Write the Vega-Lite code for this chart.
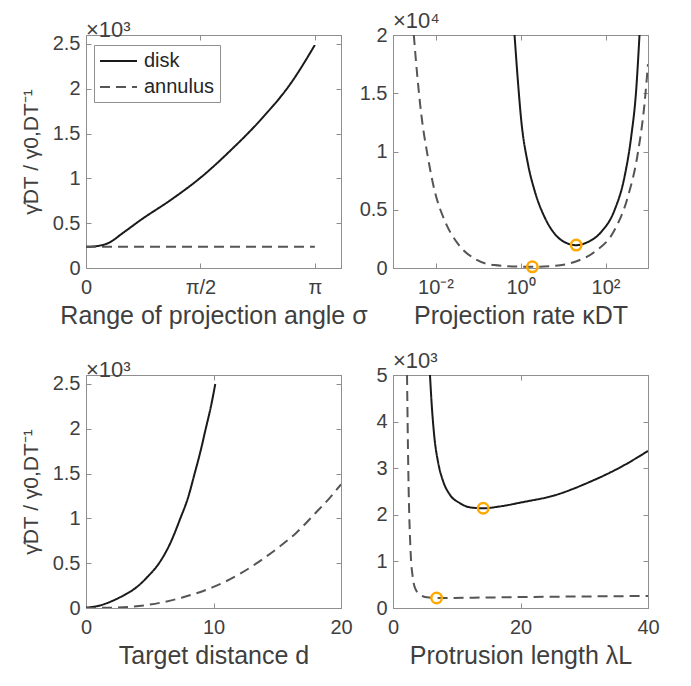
{
  "$schema": "https://vega.github.io/schema/vega-lite/v6.json",
  "background": "white",
  "padding": {"left": 19, "top": 9, "right": 5, "bottom": 5},
  "config": {
    "font": "Liberation Sans",
    "view": {"stroke": "#8f8f8f", "strokeWidth": 1},
    "axis": {"grid": false, "domainColor": "#8f8f8f", "tickColor": "#8f8f8f", "tickSize": -5, "labelFontSize": 20, "labelColor": "#3f3f3f", "titleFontSize": 25, "titleFontWeight": "normal", "titleColor": "#3f3f3f", "labelFont": "Liberation Sans", "titleFont": "Liberation Sans", "labelOverlap": false, "labelFlush": false, "labelBound": false},
    "axisX": {"labelPadding": 14, "titlePadding": 6},
    "axisY": {"labelPadding": 11, "titlePadding": 11, "titleFontSize": 21},
    "title": {"anchor": "start", "frame": "group", "fontSize": 22, "fontWeight": "normal", "color": "#3f3f3f", "font": "Liberation Sans", "offset": -8, "baseline": "alphabetic"},
    "legend": {"labelFontSize": 20, "labelColor": "#262626", "labelFont": "Liberation Sans"}
  },
  "datasets": {
    "p1": [
      {"x": 0, "y": 236, "s": "disk"}, {"x": 0.144, "y": 244, "s": "disk"}, {"x": 0.308, "y": 279, "s": "disk"}, {"x": 0.513, "y": 395, "s": "disk"}, {"x": 0.76, "y": 541, "s": "disk"}, {"x": 1.17, "y": 763, "s": "disk"}, {"x": 1.581, "y": 1014, "s": "disk"}, {"x": 1.992, "y": 1318, "s": "disk"}, {"x": 2.402, "y": 1658, "s": "disk"}, {"x": 2.813, "y": 2063, "s": "disk"}, {"x": 3.1416, "y": 2489, "s": "disk"},
      {"x": 0, "y": 236, "s": "annulus"}, {"x": 1.5, "y": 236, "s": "annulus"}, {"x": 3.1416, "y": 236, "s": "annulus"}
    ],
    "p2": [
      {"x": 0.724, "y": 20000, "s": "disk"}, {"x": 0.865, "y": 16130, "s": "disk"}, {"x": 1.04, "y": 12690, "s": "disk"}, {"x": 1.49, "y": 8970, "s": "disk"}, {"x": 2.13, "y": 6680, "s": "disk"}, {"x": 3.67, "y": 4380, "s": "disk"}, {"x": 6.31, "y": 2950, "s": "disk"}, {"x": 10.8, "y": 2230, "s": "disk"}, {"x": 20.4, "y": 1960, "s": "disk"}, {"x": 38.4, "y": 2230, "s": "disk"}, {"x": 79.1, "y": 3090, "s": "disk"}, {"x": 163, "y": 4960, "s": "disk"}, {"x": 280, "y": 7820, "s": "disk"}, {"x": 402, "y": 11260, "s": "disk"}, {"x": 527, "y": 15270, "s": "disk"}, {"x": 631, "y": 20000, "s": "disk"},
      {"x": 0.00309, "y": 20000, "s": "annulus"}, {"x": 0.00351, "y": 17560, "s": "annulus"}, {"x": 0.0046, "y": 13270, "s": "annulus"}, {"x": 0.0066, "y": 9540, "s": "annulus"}, {"x": 0.00946, "y": 6680, "s": "annulus"}, {"x": 0.0163, "y": 4100, "s": "annulus"}, {"x": 0.0335, "y": 2090, "s": "annulus"}, {"x": 0.0828, "y": 800, "s": "annulus"}, {"x": 0.244, "y": 250, "s": "annulus"}, {"x": 1.04, "y": 110, "s": "annulus"}, {"x": 1.9, "y": 100, "s": "annulus"}, {"x": 6.31, "y": 180, "s": "annulus"}, {"x": 18.6, "y": 520, "s": "annulus"}, {"x": 55, "y": 1380, "s": "annulus"}, {"x": 162, "y": 3240, "s": "annulus"}, {"x": 335, "y": 6100, "s": "annulus"}, {"x": 575, "y": 9830, "s": "annulus"}, {"x": 828, "y": 14100, "s": "annulus"}, {"x": 1000, "y": 17500, "s": "annulus"}
    ],
    "c2": [{"x": 1.9, "y": 100}, {"x": 20.4, "y": 1970}],
    "p3": [
      {"x": 0, "y": 5, "s": "disk"}, {"x": 1, "y": 25, "s": "disk"}, {"x": 2, "y": 75, "s": "disk"}, {"x": 3, "y": 145, "s": "disk"}, {"x": 3.95, "y": 230, "s": "disk"}, {"x": 4.84, "y": 350, "s": "disk"}, {"x": 5.73, "y": 500, "s": "disk"}, {"x": 6.6, "y": 720, "s": "disk"}, {"x": 7.4, "y": 1000, "s": "disk"}, {"x": 8.0, "y": 1230, "s": "disk"}, {"x": 8.52, "y": 1500, "s": "disk"}, {"x": 9.0, "y": 1760, "s": "disk"}, {"x": 9.39, "y": 2000, "s": "disk"}, {"x": 9.8, "y": 2250, "s": "disk"}, {"x": 10.14, "y": 2500, "s": "disk"},
      {"x": 0, "y": 0, "s": "annulus"}, {"x": 2.5, "y": 5, "s": "annulus"}, {"x": 5, "y": 38, "s": "annulus"}, {"x": 7.5, "y": 115, "s": "annulus"}, {"x": 10, "y": 235, "s": "annulus"}, {"x": 12, "y": 375, "s": "annulus"}, {"x": 14, "y": 560, "s": "annulus"}, {"x": 15, "y": 665, "s": "annulus"}, {"x": 16.5, "y": 840, "s": "annulus"}, {"x": 18, "y": 1060, "s": "annulus"}, {"x": 19, "y": 1210, "s": "annulus"}, {"x": 20, "y": 1380, "s": "annulus"}
    ],
    "p4": [
      {"x": 5.8, "y": 5000, "s": "disk"}, {"x": 6.06, "y": 4390, "s": "disk"}, {"x": 6.48, "y": 3680, "s": "disk"}, {"x": 7.1, "y": 3110, "s": "disk"}, {"x": 7.89, "y": 2710, "s": "disk"}, {"x": 8.93, "y": 2430, "s": "disk"}, {"x": 10.5, "y": 2250, "s": "disk"}, {"x": 12.06, "y": 2160, "s": "disk"}, {"x": 14.15, "y": 2140, "s": "disk"}, {"x": 16.76, "y": 2180, "s": "disk"}, {"x": 20.3, "y": 2270, "s": "disk"}, {"x": 25.4, "y": 2420, "s": "disk"}, {"x": 30.6, "y": 2690, "s": "disk"}, {"x": 35.8, "y": 3030, "s": "disk"}, {"x": 40, "y": 3370, "s": "disk"},
      {"x": 2.2, "y": 5000, "s": "annulus"}, {"x": 2.4, "y": 2960, "s": "annulus"}, {"x": 2.77, "y": 1180, "s": "annulus"}, {"x": 3.08, "y": 680, "s": "annulus"}, {"x": 3.45, "y": 430, "s": "annulus"}, {"x": 4.23, "y": 290, "s": "annulus"}, {"x": 5.27, "y": 230, "s": "annulus"}, {"x": 6.84, "y": 215, "s": "annulus"}, {"x": 12.6, "y": 222, "s": "annulus"}, {"x": 20.4, "y": 235, "s": "annulus"}, {"x": 30, "y": 248, "s": "annulus"}, {"x": 40, "y": 258, "s": "annulus"}
    ],
    "c4": [{"x": 6.84, "y": 215}, {"x": 14.15, "y": 2140}]
  },
  "columns": 2,
  "spacing": {"row": 107, "column": 52},
  "bounds": "flush",
  "resolve": {"scale": {"x": "independent", "y": "independent", "color": "independent", "strokeDash": "independent"}, "legend": {"color": "independent", "strokeDash": "independent"}},
  "concat": [
    {
      "width": 255, "height": 233,
      "title": {"text": "×10³"},
      "data": {"name": "p1"},
      "layer": [
        {
          "mark": {"type": "line", "strokeWidth": 2, "clip": true, "interpolate": "monotone"},
          "encoding": {
            "x": {"field": "x", "type": "quantitative", "scale": {"domain": [0, 3.14159265]}, "axis": {"values": [0, 1.5707963, 3.14159265], "labelExpr": "datum.value < 0.1 ? '0' : datum.value < 2 ? 'π/2' : 'π'", "title": "Range of projection angle σ"}},
            "y": {"field": "y", "type": "quantitative", "scale": {"domain": [0, 2500]}, "axis": {"values": [0, 500, 1000, 1500, 2000, 2500], "labelExpr": "datum.value/1000", "title": "γ̃DT / γ0,DT⁻¹"}},
            "color": {"field": "s", "type": "nominal", "scale": {"domain": ["disk", "annulus"], "range": ["#1a1a1a", "#555555"]}, "legend": {"orient": "none", "legendX": 8, "legendY": 10, "title": null, "strokeColor": "#8f8f8f", "fillColor": "white", "padding": 5, "symbolType": "M-1,0H2.7", "symbolSize": 400, "symbolStrokeWidth": 2, "rowPadding": 5, "labelOffset": 23}},
            "strokeDash": {"field": "s", "type": "nominal", "scale": {"domain": ["disk", "annulus"], "range": [[1, 0], [10, 6]]}, "legend": {"orient": "none", "legendX": 8, "legendY": 10, "title": null, "strokeColor": "#8f8f8f", "fillColor": "white", "padding": 5, "symbolType": "M-1,0H2.7", "symbolSize": 400, "symbolStrokeWidth": 2, "rowPadding": 5, "labelOffset": 23}}
          }
        },
        {
          "mark": {"type": "line", "opacity": 0},
          "encoding": {
            "x": {"field": "x", "type": "quantitative", "axis": {"orient": "top", "labels": false, "title": null, "values": [0, 1.5707963, 3.14159265]}},
            "y": {"field": "y", "type": "quantitative", "axis": {"orient": "right", "labels": false, "title": null, "values": [0, 500, 1000, 1500, 2000, 2500]}},
            "detail": {"field": "s"}
          }
        }
      ],
      "resolve": {"axis": {"x": "independent", "y": "independent"}}
    },
    {
      "width": 255, "height": 233,
      "title": {"text": "×10⁴"},
      "layer": [
        {
          "data": {"name": "p2"},
          "mark": {"type": "line", "strokeWidth": 2, "clip": true, "interpolate": "monotone"},
          "encoding": {
            "x": {"field": "x", "type": "quantitative", "scale": {"type": "log", "domain": [0.001, 1000]}, "axis": {"values": [0.01, 1, 100], "labelExpr": "datum.value < 0.1 ? '10⁻²' : datum.value < 10 ? '10⁰' : '10²'", "title": "Projection rate κDT"}},
            "y": {"field": "y", "type": "quantitative", "scale": {"domain": [0, 20000]}, "axis": {"values": [0, 5000, 10000, 15000, 20000], "labelExpr": "datum.value/10000", "title": null}},
            "color": {"field": "s", "type": "nominal", "scale": {"domain": ["disk", "annulus"], "range": ["#1a1a1a", "#555555"]}, "legend": null},
            "strokeDash": {"field": "s", "type": "nominal", "scale": {"domain": ["disk", "annulus"], "range": [[1, 0], [10, 6]]}, "legend": null}
          }
        },
        {
          "data": {"name": "p2"},
          "mark": {"type": "line", "opacity": 0},
          "encoding": {
            "x": {"field": "x", "type": "quantitative", "axis": {"orient": "top", "labels": false, "title": null, "values": [0.01, 1, 100]}},
            "y": {"field": "y", "type": "quantitative", "axis": {"orient": "right", "labels": false, "title": null, "values": [0, 5000, 10000, 15000, 20000]}},
            "detail": {"field": "s"}
          }
        },
        {
          "data": {"name": "c2"},
          "mark": {"type": "point", "shape": "circle", "filled": false, "stroke": "#FFA800", "strokeWidth": 2.5, "size": 110, "opacity": 1},
          "encoding": {
            "x": {"field": "x", "type": "quantitative", "axis": null},
            "y": {"field": "y", "type": "quantitative", "axis": null}
          }
        }
      ],
      "resolve": {"axis": {"x": "independent", "y": "independent"}}
    },
    {
      "width": 255, "height": 233,
      "title": {"text": "×10³"},
      "data": {"name": "p3"},
      "layer": [
        {
          "mark": {"type": "line", "strokeWidth": 2, "clip": true, "interpolate": "monotone"},
          "encoding": {
            "x": {"field": "x", "type": "quantitative", "scale": {"domain": [0, 20]}, "axis": {"values": [0, 10, 20], "title": "Target distance d"}},
            "y": {"field": "y", "type": "quantitative", "scale": {"domain": [0, 2500]}, "axis": {"values": [0, 500, 1000, 1500, 2000, 2500], "labelExpr": "datum.value/1000", "title": "γ̃DT / γ0,DT⁻¹"}},
            "color": {"field": "s", "type": "nominal", "scale": {"domain": ["disk", "annulus"], "range": ["#1a1a1a", "#555555"]}, "legend": null},
            "strokeDash": {"field": "s", "type": "nominal", "scale": {"domain": ["disk", "annulus"], "range": [[1, 0], [10, 6]]}, "legend": null}
          }
        },
        {
          "mark": {"type": "line", "opacity": 0},
          "encoding": {
            "x": {"field": "x", "type": "quantitative", "axis": {"orient": "top", "labels": false, "title": null, "values": [0, 10, 20]}},
            "y": {"field": "y", "type": "quantitative", "axis": {"orient": "right", "labels": false, "title": null, "values": [0, 500, 1000, 1500, 2000, 2500]}},
            "detail": {"field": "s"}
          }
        }
      ],
      "resolve": {"axis": {"x": "independent", "y": "independent"}}
    },
    {
      "width": 255, "height": 233,
      "title": {"text": "×10³"},
      "layer": [
        {
          "data": {"name": "p4"},
          "mark": {"type": "line", "strokeWidth": 2, "clip": true, "interpolate": "monotone"},
          "encoding": {
            "x": {"field": "x", "type": "quantitative", "scale": {"domain": [0, 40]}, "axis": {"values": [0, 20, 40], "title": "Protrusion length λL"}},
            "y": {"field": "y", "type": "quantitative", "scale": {"domain": [0, 5000]}, "axis": {"values": [0, 1000, 2000, 3000, 4000, 5000], "labelExpr": "datum.value/1000", "title": null}},
            "color": {"field": "s", "type": "nominal", "scale": {"domain": ["disk", "annulus"], "range": ["#1a1a1a", "#555555"]}, "legend": null},
            "strokeDash": {"field": "s", "type": "nominal", "scale": {"domain": ["disk", "annulus"], "range": [[1, 0], [10, 6]]}, "legend": null}
          }
        },
        {
          "data": {"name": "p4"},
          "mark": {"type": "line", "opacity": 0},
          "encoding": {
            "x": {"field": "x", "type": "quantitative", "axis": {"orient": "top", "labels": false, "title": null, "values": [0, 20, 40]}},
            "y": {"field": "y", "type": "quantitative", "axis": {"orient": "right", "labels": false, "title": null, "values": [0, 1000, 2000, 3000, 4000, 5000]}},
            "detail": {"field": "s"}
          }
        },
        {
          "data": {"name": "c4"},
          "mark": {"type": "point", "shape": "circle", "filled": false, "stroke": "#FFA800", "strokeWidth": 2.5, "size": 110, "opacity": 1},
          "encoding": {
            "x": {"field": "x", "type": "quantitative", "axis": null},
            "y": {"field": "y", "type": "quantitative", "axis": null}
          }
        }
      ],
      "resolve": {"axis": {"x": "independent", "y": "independent"}}
    }
  ]
}
